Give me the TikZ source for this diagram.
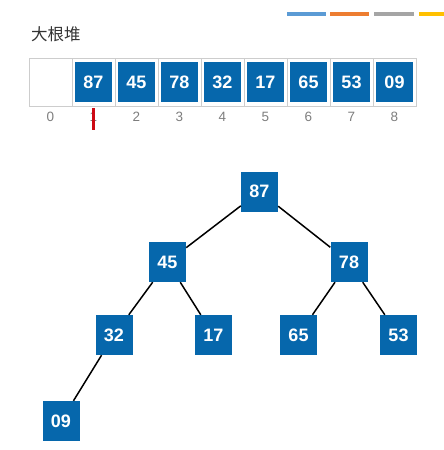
\documentclass[tikz,border=0pt]{standalone}
\usepackage{fontspec}
\setmainfont{Liberation Sans}
\newfontfamily\cjk{Noto Sans CJK SC}
\usepackage{tikz}
\usetikzlibrary{positioning}
\definecolor{heapblue}{RGB}{6,103,172}
\definecolor{cellgray}{RGB}{205,205,205}
\definecolor{idxgray}{RGB}{125,125,125}
\definecolor{markred}{RGB}{205,10,20}
\definecolor{barblue}{RGB}{91,155,213}
\definecolor{barorange}{RGB}{237,125,49}
\definecolor{bargray}{RGB}{165,165,165}
\definecolor{baryellow}{RGB}{255,192,0}

\begin{document}
\begin{tikzpicture}[x=1pt, y=-1pt,
    cell/.style={rectangle, draw=cellgray, line width=0.8pt,
      minimum width=43pt, minimum height=48pt, inner sep=0pt},
    key/.style={rectangle, fill=heapblue, text=white, inner sep=0pt,
      minimum width=37pt, minimum height=40pt,
      font=\fontsize{18}{18}\selectfont\bfseries},
    idx/.style={text=idxgray, font=\fontsize{13.5}{13.5}\selectfont},
    edge/.style={line width=1.5pt, black},
    bar/.style={line width=4pt}
  ]
    \useasboundingbox (0,0) rectangle (444,450);
    % legend bars
    \draw[bar, barblue]   (287,13.5) -- (326,13.5);
    \draw[bar, barorange] (330,13.5) -- (369,13.5);
    \draw[bar, bargray]   (374,13.5) -- (414,13.5);
    \draw[bar, baryellow] (419,13.5) -- (450,13.5);

    \node[anchor=west, inner sep=0pt, text=black!80,
      font=\cjk\fontsize{16.5}{16.5}\selectfont] (title) at (31,34) {大根堆};

    % array
    \node[cell] (c0) at (50.5,82) {};
    \foreach \v [count=\i] in {87,45,78,32,17,65,53,09} {
      \node[cell] (c\i) at (50.5+43*\i,82) {};
      \node[key] (a\i) at (c\i) {\v};
    }
    \foreach \i in {0,...,8}
      \node[idx] (i\i) at (50.5+43*\i,117) {\i};
    \draw[line width=2.4pt, markred] (93.5,108) -- (93.5,130);

    % tree
    \begin{scope}[on grid]
      \node[key] (n1) at (259.5,191.5) {87};
      \node[key, below left=70.5pt and 92pt of n1]  (n2) {45};
      \node[key, below right=70.5pt and 89.5pt of n1] (n3) {78};
      \node[key, below left=73pt and 53.5pt of n2]  (n4) {32};
      \node[key, below right=73pt and 46pt of n2]   (n5) {17};
      \node[key, below left=73pt and 50.5pt of n3]  (n6) {65};
      \node[key, below right=73pt and 49.5pt of n3] (n7) {53};
      \node[key, below left=86pt and 53pt of n4]    (n8) {09};
    \end{scope}
    \foreach \a/\b in {n1/n2, n1/n3, n2/n4, n2/n5, n3/n6, n3/n7, n4/n8}
      \draw[edge] (\a) -- (\b);
  \end{tikzpicture}
\end{document}
